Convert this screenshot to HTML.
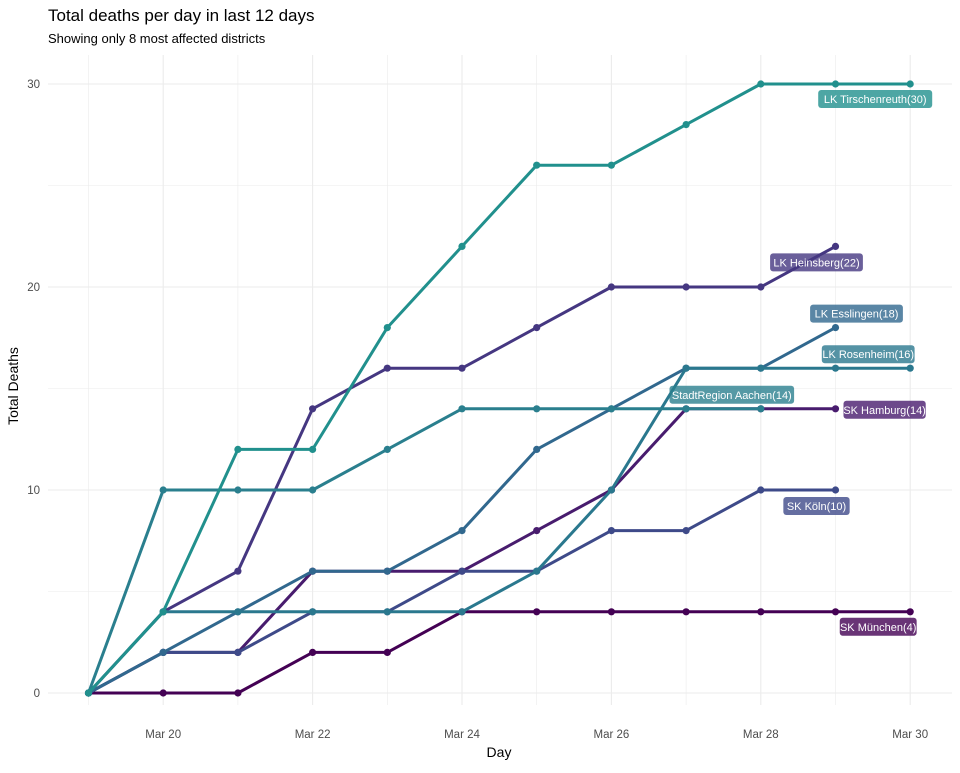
<!DOCTYPE html>
<html><head><meta charset="utf-8"><style>
body{margin:0;background:#fff;font-family:"Liberation Sans",sans-serif}
svg text{font-family:"Liberation Sans",sans-serif}
</style></head><body>
<svg id="c" width="960" height="768">
<text x="48" y="21" font-size="17" fill="#000">Total deaths per day in last 12 days</text>
<text x="48" y="43" font-size="13" fill="#000">Showing only 8 most affected districts</text>
<text x="499" y="757" font-size="14" text-anchor="middle">Day</text>
<text x="18" y="386" font-size="14" text-anchor="middle" transform="rotate(-90 18 386)">Total Deaths</text>
<g id="grid"></g><g id="lines"></g><g id="labels"></g>
</svg>
<script>
const days=["Mar 19","Mar 20","Mar 21","Mar 22","Mar 23","Mar 24","Mar 25","Mar 26","Mar 27","Mar 28","Mar 29","Mar 30"];
const xTicks=["Mar 20","Mar 22","Mar 24","Mar 26","Mar 28","Mar 30"];
const yTicks=[0,10,20,30];
const names=["SK München","SK Hamburg","LK Heinsberg","SK Köln","LK Esslingen","LK Rosenheim","StadtRegion Aachen","LK Tirschenreuth"];
const muenchen=[0,0,0,2,2,4,4,4,4,4,4,4];
const hamburg=[0,2,2,6,6,6,8,10,14,14,14];
const heinsberg=[0,4,6,14,16,16,18,20,20,20,22];
const koeln=[0,2,2,4,4,6,6,8,8,10,10];
const esslingen=[0,2,4,6,6,8,12,14,16,16,18];
const rosenheim=[0,4,4,4,4,4,6,10,16,16,16,16];
const aachen=[0,10,10,10,12,14,14,14,14,14];
const tirschenreuth=[0,4,12,12,18,22,26,26,28,30,30,30];
const series=[muenchen,hamburg,heinsberg,koeln,esslingen,rosenheim,aachen,tirschenreuth];
const colors=["#440154","#481c6e","#453781","#3e4a89","#31688e","#2a788e","#2a7f8e","#21908d"];
const labelOff=[[-32,15,"m"],[0,1,"r"],[-19,16,"m"],[-19,16,"m"],[21,-14,"m"],[-42,-14,"m"],[-29,-14,"m"],[-35,15,"m"]];
const X=i=>88.5+i*74.7, Y=v=>693-v*20.3;
const ns="http://www.w3.org/2000/svg";
const mk=(t,a,p)=>{const e=document.createElementNS(ns,t);for(const k in a)e.setAttribute(k,a[k]);p.appendChild(e);return e;};
const G=document.getElementById("grid"),L=document.getElementById("lines"),LB=document.getElementById("labels");
for(let v=0;v<=30;v+=5){const l=mk("line",{x1:48,x2:952,y1:Y(v),y2:Y(v),stroke:"#ebebeb","stroke-width":v%10?0.6:1.1},G);

}
for(let i=0;i<days.length;i++){const l=mk("line",{x1:X(i),x2:X(i),y1:55,y2:705,stroke:"#ebebeb","stroke-width":i%2?1.1:0.6},G);

}
yTicks.forEach(v=>{const t=mk("text",{x:40,y:Y(v)+4,"font-size":11.5,fill:"#4d4d4d","text-anchor":"end"},G);t.textContent=v;

});
xTicks.forEach(d=>{const i=days.indexOf(d);const t=mk("text",{x:X(i),y:738,"font-size":11.5,fill:"#4d4d4d","text-anchor":"middle"},G);t.textContent=d;

});
series.forEach((s,k)=>{
 const g=mk("g",{},L);
 
 
 const p=mk("polyline",{points:s.map((v,i)=>X(i)+","+Y(v)).join(" "),fill:"none",stroke:colors[k],"stroke-width":3,"stroke-linejoin":"round"},g);
 
 
 s.forEach((v,i)=>{const c=mk("circle",{cx:X(i),cy:Y(v),r:3.6,fill:colors[k]},g);
 
 });
});
series.forEach((s,k)=>{
 const i=s.length-1,v=s[i],txt=names[k]+"("+v+")";
 const w=txt.length*5.3+8,o=labelOff[k];
 let cx=X(i)+o[0],cy=Y(v)+o[1];
 let x0=o[2]=="r"?X(i)+8:cx-w/2;
 const g=mk("g",{},LB);
 
 
 mk("rect",{x:x0,y:cy-9,width:w,height:18,rx:3,fill:colors[k],"fill-opacity":0.8},g);
 const t=mk("text",{x:x0+w/2,y:cy+4,"font-size":11,fill:"#fff","text-anchor":"middle"},g);t.textContent=txt;
});
</script>
</body></html>
